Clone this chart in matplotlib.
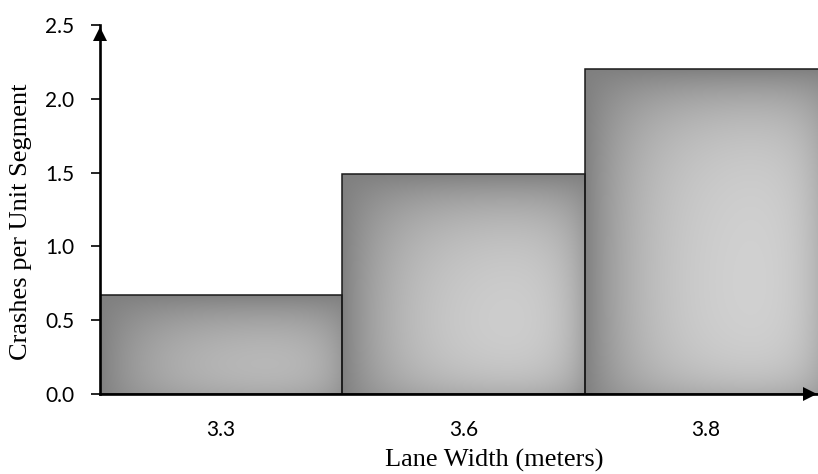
import numpy as np
import matplotlib
matplotlib.use("Agg")
import matplotlib.pyplot as plt

categories = ["3.3", "3.6", "3.8"]
values = [0.67, 1.49, 2.20]
yticks = [0.0, 0.5, 1.0, 1.5, 2.0, 2.5]
xlabel = "Lane Width (meters)"
ylabel = "Crashes per Unit Segment"

W_PX, H_PX, DPI = 818, 474, 100
fig = plt.figure(figsize=(W_PX / DPI, H_PX / DPI), dpi=DPI)
ax_l, ax_b, ax_w, ax_h = 100, 80, 727, 369
ax = fig.add_axes([ax_l / W_PX, ax_b / H_PX, ax_w / W_PX, ax_h / H_PX])

n = len(categories)
xmin, xmax = -0.5, n - 0.5
ymin, ymax = 0.0, 2.5
ax.set_xlim(xmin, xmax)
ax.set_ylim(ymin, ymax)
pxx = ax_w / (xmax - xmin)
pxy = ax_h / (ymax - ymin)

dark, light = 0.50, 0.855
for i, v in enumerate(values):
    x0, x1 = i - 0.5, i + 0.5
    wpx = int(round(pxx))
    hpx = max(2, int(round(v * pxy)))
    xs = np.arange(wpx) + 0.5
    ys = np.arange(hpx) + 0.5
    X, Y = np.meshgrid(xs, ys)
    dl, dr = X, wpx - X
    db, dt = Y, hpx - Y
    g = (1 - 1.0 * np.exp(-dl / 60.0)) * (1 - 0.6 * np.exp(-dr / 25.0)) * \
        (1 - 1.0 * np.exp(-dt / 45.0)) * (1 - 0.45 * np.exp(-db / 25.0))
    val = dark + (light - dark) * g
    img = np.dstack([val, val, val])
    ax.imshow(img, extent=(x0, x1, 0, v), origin="lower", aspect="auto",
              interpolation="bilinear", zorder=1)

ax.bar(range(n), values, width=1.0, fill=False, edgecolor="#1a1a1a",
       linewidth=1.1, zorder=2)
ax.set_xlim(xmin, xmax)
ax.set_ylim(ymin, ymax)

for s in ["top", "right"]:
    ax.spines[s].set_visible(False)
for s in ["left", "bottom"]:
    ax.spines[s].set_linewidth(1.9)
    ax.spines[s].set_color("black")
    ax.spines[s].set_zorder(3)

tick_fam = ["Lato", "DejaVu Sans"]
ax.set_yticks(yticks)
ax.set_yticklabels([f"{t:.1f}" for t in yticks], fontfamily=tick_fam)
ax.set_xticks(range(n))
ax.set_xticklabels(categories, fontfamily=tick_fam)
ax.tick_params(axis="y", direction="out", length=6.5, width=1.2, pad=12,
               labelsize=15)
ax.tick_params(axis="x", length=0, pad=19, labelsize=15)

# arrowheads
ax.plot([xmin], [ymax - 9.5 / pxy], marker="^", markersize=10.5, color="black",
        clip_on=False, zorder=5, markeredgewidth=0)
ax.plot([xmin + (818 - 7.5 - ax_l) / pxx], [0], marker=">", markersize=10.5,
        color="black", clip_on=False, zorder=5, markeredgewidth=0)

serif = ["Liberation Serif", "DejaVu Serif"]
fig.text(494 / W_PX, 1 - 467 / H_PX, xlabel, ha="center", va="baseline",
         family=serif, fontsize=19)
fig.text(21 / W_PX, 1 - 222 / H_PX, ylabel, ha="center", va="center",
         rotation=90, family=serif, fontsize=19)

fig.savefig("out.png", dpi=DPI)
